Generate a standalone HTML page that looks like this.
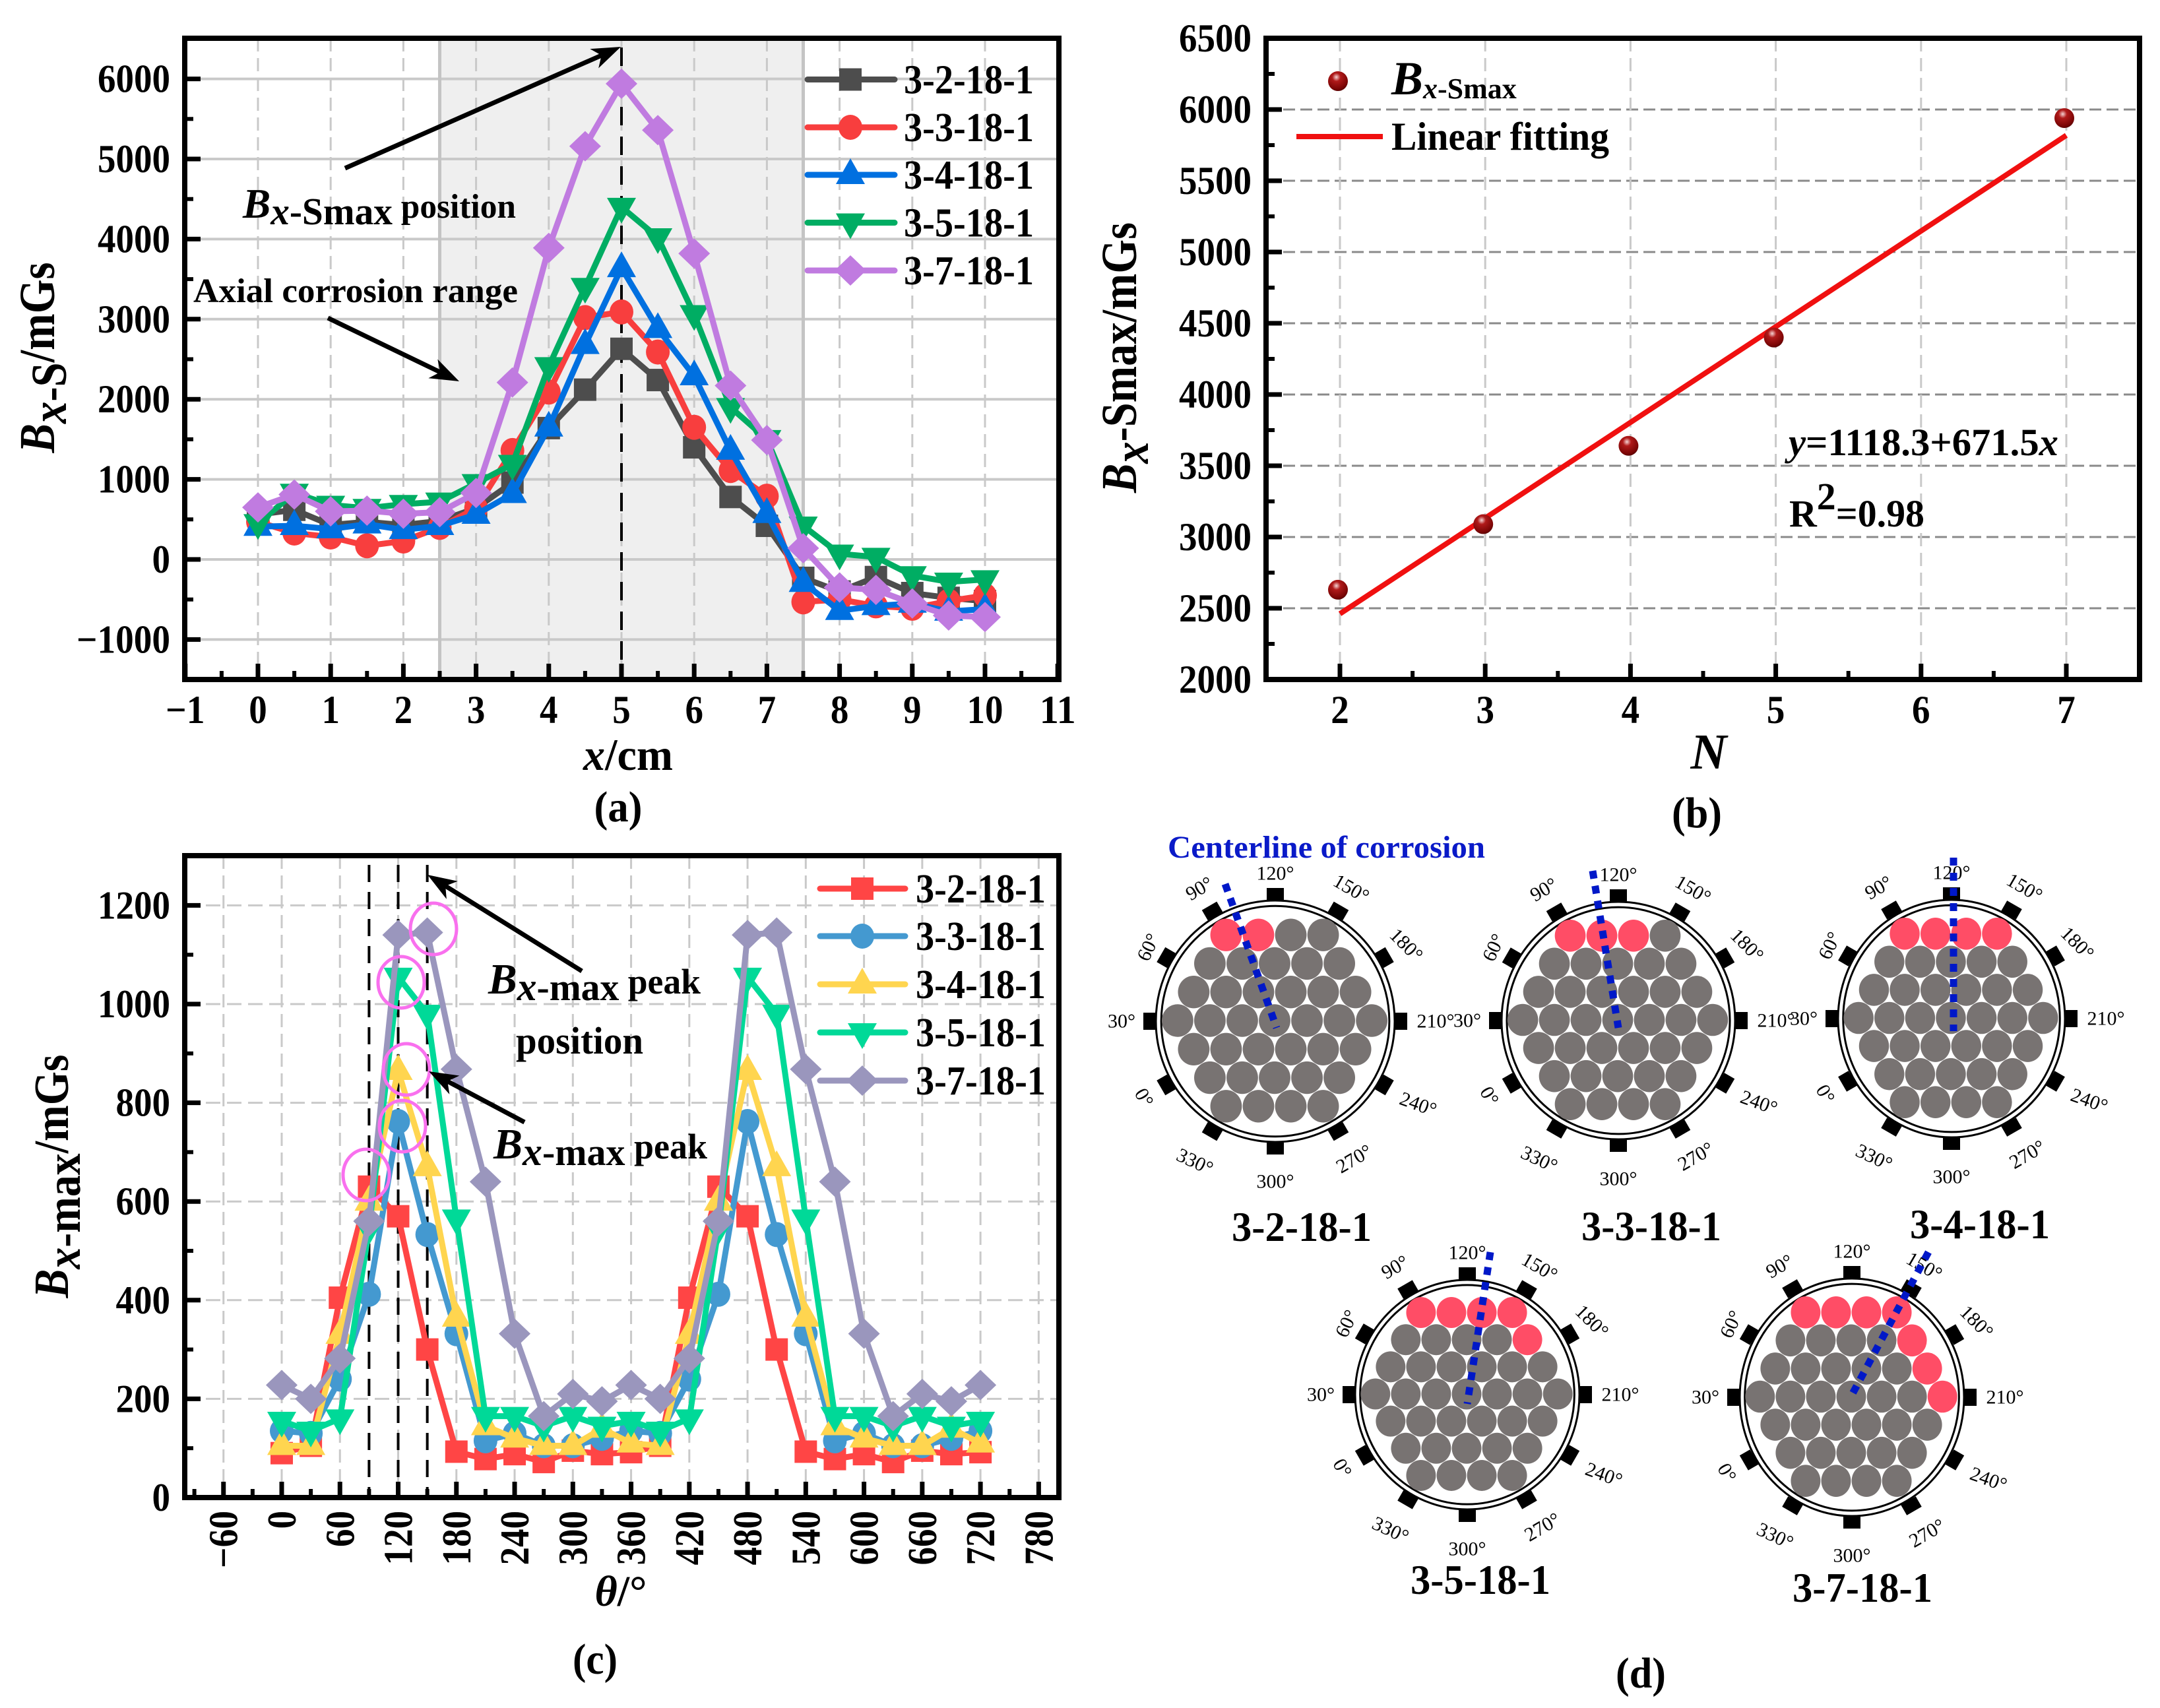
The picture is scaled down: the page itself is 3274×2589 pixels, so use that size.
<!DOCTYPE html>
<html lang="en">
<head>
<meta charset="utf-8">
<title>Bx signal composite figure</title>
<style>
html,body{margin:0;padding:0;background:#fff;}
svg{display:block;}
text{font-family:"Liberation Serif",serif;font-weight:bold;fill:#000;}
.i{font-style:italic;}
</style>
</head>
<body>
<svg id="fig" xmlns="http://www.w3.org/2000/svg" width="3274" height="2589" viewBox="0 0 3274 2589">
<defs>
<radialGradient id="ball" cx="0.42" cy="0.3" r="0.75">
<stop offset="0" stop-color="#f5d5d5"/><stop offset="0.28" stop-color="#b01a1a"/><stop offset="0.8" stop-color="#7a0505"/><stop offset="1" stop-color="#4d0000"/>
</radialGradient>
</defs>
<rect width="3274" height="2589" fill="#fff"/>
<g id="pa"></g>
<g id="pb"></g>
<g id="pc"></g>
<g id="pd"></g>

<g>
<text transform="translate(82,542) rotate(-90)" text-anchor="middle" font-size="76" textLength="289" lengthAdjust="spacingAndGlyphs"><tspan class="i">B</tspan><tspan class="i" dy="18">x</tspan><tspan>-S</tspan><tspan dy="-18">/mGs</tspan></text>
<text x="952" y="1167" text-anchor="middle" font-size="68" textLength="136" lengthAdjust="spacingAndGlyphs"><tspan class="i">x</tspan>/cm</text>
<text x="937" y="1245" text-anchor="middle" font-size="66" textLength="73" lengthAdjust="spacingAndGlyphs">(a)</text>
<text x="368" y="330" font-size="56" textLength="414" lengthAdjust="spacingAndGlyphs"><tspan class="i" font-size="64">B</tspan><tspan class="i" font-size="58" dy="10">x</tspan><tspan font-size="58">-Smax</tspan><tspan dy="-10" font-size="52"> position</tspan></text>
<text x="293" y="458" font-size="52" textLength="492" lengthAdjust="spacingAndGlyphs">Axial corrosion range</text>
</g>

<g>
<text transform="translate(1722,542) rotate(-90)" text-anchor="middle" font-size="76" textLength="410" lengthAdjust="spacingAndGlyphs"><tspan class="i">B</tspan><tspan class="i" dy="18">x</tspan><tspan dy="-18">-Smax/mGs</tspan></text>
<text class="i" x="2590" y="1165" text-anchor="middle" font-size="76">N</text>
<text x="2572" y="1254" text-anchor="middle" font-size="66" textLength="76" lengthAdjust="spacingAndGlyphs">(b)</text>
<text x="2109" y="143"><tspan class="i" font-size="72">B</tspan><tspan class="i" font-size="44" dy="6">x</tspan><tspan font-size="44">-Smax</tspan></text>
<text x="2109" y="227" font-size="60" textLength="330" lengthAdjust="spacingAndGlyphs">Linear fitting</text>
<text x="2711" y="690" font-size="58" textLength="409" lengthAdjust="spacingAndGlyphs"><tspan class="i">y</tspan>=1118.3+671.5<tspan class="i">x</tspan></text>
<text x="2712" y="798" font-size="58" textLength="205" lengthAdjust="spacingAndGlyphs">R<tspan dy="-26">2</tspan><tspan dy="26">=0.98</tspan></text>
</g>

<g>
<text transform="translate(103,1783) rotate(-90)" text-anchor="middle" font-size="74" textLength="369" lengthAdjust="spacingAndGlyphs"><tspan class="i">B</tspan><tspan class="i" dy="18">x</tspan><tspan>-max</tspan><tspan dy="-18">/mGs</tspan></text>
<text x="941" y="2434" text-anchor="middle" font-size="66"><tspan class="i">θ</tspan>/°</text>
<text x="902" y="2537" text-anchor="middle" font-size="66" textLength="68" lengthAdjust="spacingAndGlyphs">(c)</text>
<text x="740" y="1506" font-size="56" textLength="322" lengthAdjust="spacingAndGlyphs"><tspan class="i" font-size="66">B</tspan><tspan class="i" font-size="60" dy="10">x</tspan><tspan font-size="58">-max</tspan><tspan dy="-10" font-size="54"> peak</tspan></text>
<text x="782" y="1597" font-size="58" textLength="193" lengthAdjust="spacingAndGlyphs">position</text>
<text x="748" y="1756" font-size="56" textLength="324" lengthAdjust="spacingAndGlyphs"><tspan class="i" font-size="66">B</tspan><tspan class="i" font-size="60" dy="10">x</tspan><tspan font-size="58">-max</tspan><tspan dy="-10" font-size="54"> peak</tspan></text>
</g>

<g>
<text x="1770" y="1300" font-size="48" style="fill:#0a1ac8" textLength="481" lengthAdjust="spacingAndGlyphs">Centerline of corrosion</text>
<text x="1973" y="1881" text-anchor="middle" font-size="64" textLength="212" lengthAdjust="spacingAndGlyphs">3-2-18-1</text>
<text x="2503" y="1880" text-anchor="middle" font-size="64" textLength="212" lengthAdjust="spacingAndGlyphs">3-3-18-1</text>
<text x="3001" y="1877" text-anchor="middle" font-size="64" textLength="212" lengthAdjust="spacingAndGlyphs">3-4-18-1</text>
<text x="2244" y="2416" text-anchor="middle" font-size="64" textLength="212" lengthAdjust="spacingAndGlyphs">3-5-18-1</text>
<text x="2823" y="2428" text-anchor="middle" font-size="64" textLength="212" lengthAdjust="spacingAndGlyphs">3-7-18-1</text>
<text x="2487" y="2558" text-anchor="middle" font-size="66" textLength="76" lengthAdjust="spacingAndGlyphs">(d)</text>
</g>
</svg>

<script>
/* ---------- chart data ---------- */
const seriesNames = ['3-2-18-1','3-3-18-1','3-4-18-1','3-5-18-1','3-7-18-1'];

/* panel a */
const axialPositions = [0,0.5,1,1.5,2,2.5,3,3.5,4,4.5,5,5.5,6,6.5,7,7.5,8,8.5,9,9.5,10];
const axial32 = [560,620,430,470,430,480,640,960,1640,2120,2630,2240,1400,780,420,-230,-400,-220,-420,-480,-520];
const axial33 = [470,330,280,170,230,400,640,1360,2090,3020,3090,2590,1650,1110,790,-530,-500,-580,-610,-520,-450];
const axial34 = [410,420,380,440,370,420,560,820,1650,2680,3640,2880,2290,1360,570,-290,-640,-580,-550,-650,-620];
const axial35 = [450,830,680,640,690,720,950,1190,2410,3400,4400,4020,3060,1900,1500,420,70,30,-200,-280,-250];
const axial37 = [650,810,600,610,570,590,830,2210,3890,5160,5940,5360,3820,2170,1490,140,-350,-380,-550,-700,-720];
const axialXTicks = [-1,0,1,2,3,4,5,6,7,8,9,10,11];
const axialYTicks = [-1000,0,1000,2000,3000,4000,5000,6000];

/* panel b */
const strandCounts = [2,3,4,5,7];
const peakValues = [2630,3090,3640,4400,5940];
const fitIntercept = 1118.3;
const fitSlope = 671.5;
const strandXTicks = [2,3,4,5,6,7];
const peakYTicks = [2000,2500,3000,3500,4000,4500,5000,5500,6000,6500];

/* panel c */
const thetaValues = [0,30,60,90,120,150,180,210,240,270,300,330,360,390,420,450,480,510,540,570,600,630,660,690,720];
const circ32 = [90,105,405,630,570,300,93,78,88,72,95,88,92,105,405,630,570,300,93,78,88,72,95,88,92];
const circ33 = [135,130,240,412,762,533,332,115,130,105,105,120,135,130,240,412,762,533,332,115,130,105,105,120,135];
const circ34 = [105,105,330,600,865,670,365,145,120,105,105,140,110,105,330,600,865,670,365,145,120,105,105,140,110];
const circ35 = [155,135,160,545,1055,980,565,165,165,145,165,145,155,135,160,545,1055,980,565,165,165,145,165,145,155];
const circ37 = [228,200,282,560,1140,1145,868,640,332,165,210,195,228,200,282,560,1140,1145,868,640,332,165,210,195,228];
const thetaXTicks = [-60,0,60,120,180,240,300,360,420,480,540,600,660,720,780];
const circYTicks = [0,200,400,600,800,1000,1200];
const peakThetaLines = [90,120,150];

/* ---------- helpers ---------- */
const NS = 'http://www.w3.org/2000/svg';
function mk(parent, tag, attrs, name) {
  const el = document.createElementNS(NS, tag);
  for (const k in attrs) el.setAttribute(k, attrs[k]);
  
  
  parent.appendChild(el);
  return el;
}
function label(parent, str, attrs, name) {
  const el = mk(parent, 'text', attrs, name);
  el.textContent = str;
  return el;
}
function fmt(v) { return v < 0 ? '\u2212' + Math.abs(v) : String(v); }
function labelLen(v) {
  const digits = String(Math.abs(v)).length;
  return digits*27.5 + (v < 0 ? 32 : 0);
}
function marker(parent, type, cx, cy, color, k, name) {
  const s = k || 1;
  if (type === 'square') {
    return mk(parent, 'rect', {x: cx - 17*s, y: cy - 17*s, width: 34*s, height: 34*s, fill: color}, name);
  }
  if (type === 'circle') {
    return mk(parent, 'ellipse', {cx: cx, cy: cy, rx: 18*s, ry: 19*s, fill: color}, name);
  }
  if (type === 'up') {
    return mk(parent, 'polygon', {points: [cx, cy - 25*s, cx + 22*s, cy + 14*s, cx - 22*s, cy + 14*s].join(' '), fill: color}, name);
  }
  if (type === 'down') {
    return mk(parent, 'polygon', {points: [cx, cy + 25*s, cx + 22*s, cy - 14*s, cx - 22*s, cy - 14*s].join(' '), fill: color}, name);
  }
  return mk(parent, 'polygon', {points: [cx, cy - 23*s, cx + 24*s, cy, cx, cy + 23*s, cx - 24*s, cy].join(' '), fill: color}, name);
}
function arrow(parent, x1, y1, x2, y2, name) {
  const a = Math.atan2(y2 - y1, x2 - x1);
  const len = 44, wid = 16, back = 32;
  const bx = x2 - back*Math.cos(a), by = y2 - back*Math.sin(a);
  const hx = x2 - len*Math.cos(a), hy = y2 - len*Math.sin(a);
  mk(parent, 'line', {x1: x1, y1: y1, x2: bx, y2: by, stroke: '#000', 'stroke-width': 7}, name + '-shaft');
  const nx = -Math.sin(a)*wid, ny = Math.cos(a)*wid;
  mk(parent, 'polygon', {points: [x2, y2, hx + nx, hy + ny, bx, by, hx - nx, hy - ny].join(' '), fill: '#000'}, name + '-head');
}
function drawSeries(parent, xs, ys, xf, yf, color, type, name) {
  const g = mk(parent, 'g', {}, name);
  const pts = xs.map((x, i) => xf(x) + ',' + yf(ys[i])).join(' ');
  mk(g, 'polyline', {points: pts, fill: 'none', stroke: color, 'stroke-width': 9, 'stroke-linejoin': 'round'}, name + '-line');
  xs.forEach((x, i) => {
    marker(g, type, xf(x), yf(ys[i]), color, 1, name + '-point');
  });
}
function legendRow(parent, x1, x2, mx, tx, y, color, type, text, name) {
  const g = mk(parent, 'g', {}, name);
  mk(g, 'line', {x1: x1, x2: x2, y1: y, y2: y, stroke: color, 'stroke-width': 9, 'stroke-linecap': 'round'}, name + '-line');
  marker(g, type, mx, y, color, 1, name + '-marker');
  label(g, text, {x: tx, y: y + 21, 'font-size': 62, textLength: 197, lengthAdjust: 'spacingAndGlyphs'}, name + '-text');
}
function frame(parent, l, t, r, b) {
  mk(parent, 'rect', {x: l, y: t, width: r - l, height: b - t, fill: 'none', stroke: '#000', 'stroke-width': 8}, 'plot-frame');
}
function tickY(parent, l, y, major) {
  mk(parent, 'line', {x1: l, x2: l + (major ? 24 : 13), y1: y, y2: y, stroke: '#000', 'stroke-width': major ? 7 : 6}, major ? 'y-major-tick' : 'y-minor-tick');
}
function tickX(parent, b, x, major) {
  mk(parent, 'line', {x1: x, x2: x, y1: b, y2: b - (major ? 24 : 13), stroke: '#000', 'stroke-width': major ? 7 : 6}, major ? 'x-major-tick' : 'x-minor-tick');
}

/* ---------- panel a ---------- */
(function () {
  const p = document.getElementById('pa');
  const L = 280, R = 1605, T = 58, B = 1030;
  const x = v => 391 + 110.2*v;
  const y = v => 848 - 0.1214*v;
  mk(p, 'rect', {x: x(2.5), y: T, width: x(7.5) - x(2.5), height: B - T, fill: '#efefef'}, 'axial-corrosion-range');
  axialYTicks.forEach(v => {
    mk(p, 'line', {x1: L, x2: R, y1: y(v), y2: y(v), stroke: '#c9c9c9', 'stroke-width': 4}, 'y-gridline');
  });
  axialXTicks.slice(1, -1).forEach(v => {
    mk(p, 'line', {x1: x(v), x2: x(v), y1: T, y2: B, stroke: '#c9c9c9', 'stroke-width': 3, 'stroke-dasharray': '20 10'}, 'x-gridline');
  });
  [2.5, 7.5].forEach(v => {
    mk(p, 'line', {x1: x(v), x2: x(v), y1: T, y2: B, stroke: '#c4c4c4', 'stroke-width': 5}, 'corrosion-range-edge');
  });
  mk(p, 'line', {x1: x(5), x2: x(5), y1: 72, y2: B, stroke: '#000', 'stroke-width': 4, 'stroke-dasharray': '28 17'}, 'peak-position-line');

  const ys = [axial32, axial33, axial34, axial35, axial37];
  const colors = ['#4d4d4d', '#f83e3e', '#0070e0', '#00ad63', '#c07be0'];
  const types = ['square', 'circle', 'up', 'down', 'diamond'];
  ys.forEach((arr, i) => {
    drawSeries(p, axialPositions, arr, x, y, colors[i], types[i], 'series-a-' + seriesNames[i]);
  });
  const rows = [120.5, 193, 265, 337.5, 410];
  rows.forEach((ry, i) => {
    legendRow(p, 1224, 1356, 1289, 1370, ry, colors[i], types[i], seriesNames[i], 'legend-a-' + seriesNames[i]);
  });
  arrow(p, 523, 255, 941, 71, 'bxsmax-arrow');
  arrow(p, 497, 482, 696, 578, 'corrosion-arrow');

  axialYTicks.forEach(v => {
    tickY(p, L, y(v), true);
    label(p, fmt(v), {x: 258, y: y(v) + 20, 'text-anchor': 'end', 'font-size': 60, textLength: labelLen(v), lengthAdjust: 'spacingAndGlyphs'}, 'y-tick-label-a');
    tickY(p, L, y(v + 500), false);
  });
  axialXTicks.forEach(v => {
    tickX(p, B, x(v), true);
    label(p, fmt(v), {x: x(v), y: 1096, 'text-anchor': 'middle', 'font-size': 60, textLength: labelLen(v), lengthAdjust: 'spacingAndGlyphs'}, 'x-tick-label-a');
    if (v < 11) tickX(p, B, x(v + 0.5), false);
  });
  frame(p, L, T, R, B);
})();

/* ---------- panel b ---------- */
(function () {
  const p = document.getElementById('pb');
  const L = 1919, R = 3243, T = 58, B = 1030;
  const x = v => 2031 + 220.2*(v - 2);
  const y = v => 1030 - 0.216*(v - 2000);
  peakYTicks.slice(1, -1).forEach(v => {
    mk(p, 'line', {x1: L, x2: R, y1: y(v), y2: y(v), stroke: '#8a8a8a', 'stroke-width': 3, 'stroke-dasharray': '18 8'}, 'y-gridline');
  });
  strandXTicks.forEach(v => {
    mk(p, 'line', {x1: x(v), x2: x(v), y1: T, y2: B, stroke: '#c9c9c9', 'stroke-width': 3, 'stroke-dasharray': '20 10'}, 'x-gridline');
  });
  const x0 = strandCounts[0], x1 = strandCounts[strandCounts.length - 1];
  mk(p, 'line', {x1: x(x0), x2: x(x1), y1: y(fitIntercept + fitSlope*x0), y2: y(fitIntercept + fitSlope*x1), stroke: '#f01010', 'stroke-width': 8}, 'linear-fit-line');
  strandCounts.forEach((n, i) => {
    mk(p, 'circle', {cx: x(n) - 3, cy: y(peakValues[i]), r: 15, fill: 'url(#ball)'}, 'bxsmax-point');
  });
  mk(p, 'circle', {cx: 2028, cy: 123, r: 15, fill: 'url(#ball)'}, 'legend-bxsmax-marker');
  mk(p, 'line', {x1: 1965, x2: 2096, y1: 207, y2: 207, stroke: '#f01010', 'stroke-width': 8}, 'legend-fit-line');
  peakYTicks.forEach(v => {
    tickY(p, L, y(v), true);
    label(p, String(v), {x: 1897, y: y(v) + 20, 'text-anchor': 'end', 'font-size': 60, textLength: labelLen(v), lengthAdjust: 'spacingAndGlyphs'}, 'y-tick-label-b');
    if (v < 6500) tickY(p, L, y(v + 250), false);
  });
  strandXTicks.forEach(v => {
    tickX(p, B, x(v), true);
    label(p, String(v), {x: x(v), y: 1096, 'text-anchor': 'middle', 'font-size': 60, textLength: labelLen(v), lengthAdjust: 'spacingAndGlyphs'}, 'x-tick-label-b');
    if (v < 7) tickX(p, B, x(v + 0.5), false);
  });
  frame(p, L, T, R, B);
})();

/* ---------- panel c ---------- */
(function () {
  const p = document.getElementById('pc');
  const L = 280, R = 1605, T = 1297, B = 2270;
  const x = v => 427 + 1.471*v;
  const y = v => 2270 - 0.748*v;
  circYTicks.slice(1).forEach(v => {
    mk(p, 'line', {x1: L, x2: R, y1: y(v), y2: y(v), stroke: '#c9c9c9', 'stroke-width': 3, 'stroke-dasharray': '22 10'}, 'y-gridline');
  });
  thetaXTicks.forEach(v => {
    mk(p, 'line', {x1: x(v), x2: x(v), y1: T, y2: B, stroke: '#c9c9c9', 'stroke-width': 3, 'stroke-dasharray': '20 10'}, 'x-gridline');
  });
  peakThetaLines.forEach(v => {
    mk(p, 'line', {x1: x(v), x2: x(v), y1: 1311, y2: B, stroke: '#000', 'stroke-width': 4, 'stroke-dasharray': '26 15'}, 'peak-theta-line');
  });
  const ys = [circ32, circ33, circ34, circ35, circ37];
  const colors = ['#ff4545', '#4499d0', '#ffd54f', '#00d998', '#9a96bd'];
  const types = ['square', 'circle', 'up', 'down', 'diamond'];
  ys.forEach((arr, i) => {
    drawSeries(p, thetaValues, arr, x, y, colors[i], types[i], 'series-c-' + seriesNames[i]);
  });
  const rows = [1347, 1419, 1492, 1565, 1638];
  rows.forEach((ry, i) => {
    legendRow(p, 1243, 1372, 1307, 1388, ry, colors[i], types[i], seriesNames[i], 'legend-c-' + seriesNames[i]);
  });
  const peakCx = [657, 608, 616, 610, 555];
  const peakCy = [1408, 1489, 1621, 1707, 1781];
  peakCx.forEach((cx, i) => {
    mk(p, 'ellipse', {cx: cx, cy: peakCy[i], rx: 35, ry: 39, fill: 'none', stroke: '#f970ee', 'stroke-width': 5}, 'peak-highlight-ellipse');
  });
  arrow(p, 882, 1472, 648, 1326, 'peak-position-arrow');
  arrow(p, 795, 1701, 650, 1624, 'peak-arrow');
  circYTicks.forEach(v => {
    tickY(p, L, y(v), true);
    label(p, String(v), {x: 258, y: y(v) + 20, 'text-anchor': 'end', 'font-size': 60, textLength: labelLen(v), lengthAdjust: 'spacingAndGlyphs'}, 'y-tick-label-c');
    tickY(p, L, y(v + 100), false);
  });
  thetaXTicks.forEach(v => {
    tickX(p, B, x(v), true);
    label(p, fmt(v), {transform: 'translate(' + (x(v) + 21) + ',2290) rotate(-90)', 'text-anchor': 'end', 'font-size': 62, textLength: labelLen(v), lengthAdjust: 'spacingAndGlyphs'}, 'x-tick-label-c');
    if (v + 30 < 800) tickX(p, B, x(v + 30), false);
  });
  tickX(p, B, x(-90), false);
  frame(p, L, T, R, B);
})();

/* ---------- panel d ---------- */
(function () {
  const p = document.getElementById('pd');
  const ringLabels = [120,150,180,210,240,270,300,330,0,30,60,90];
  const labelRot = [0,30,45,0,20,-30,0,25,60,0,-65,-30];
  const labelGap = [41,49,48,62,69,58,60,63,49,52,41,49];
  const rowCounts = [4,5,6,7,6,5,4];
  const cables = [
    {id:'3-2', cx:1933, cy:1548, rx:181, ry:183, red:[[0,0],[0,1]], line:[1857,1340,1935,1558]},
    {id:'3-3', cx:2453, cy:1547, rx:177, ry:180, red:[[0,0],[0,1],[0,2]], line:[2414,1320,2453,1558]},
    {id:'3-4', cx:2958, cy:1544, rx:172, ry:180, red:[[0,0],[0,1],[0,2],[0,3]], line:[2961,1300,2961,1563]},
    {id:'3-5', cx:2224, cy:2114, rx:170, ry:174, red:[[0,0],[0,1],[0,2],[0,3],[1,4]], line:[2259,1898,2224,2128]},
    {id:'3-7', cx:2807, cy:2118, rx:170, ry:180, red:[[0,0],[0,1],[0,2],[0,3],[1,4],[2,5],[3,6]], line:[2923,1898,2805,2118]}
  ];
  cables.forEach(c => {
    const g = mk(p, 'g', {}, 'cable-section-' + c.id);
    ringLabels.forEach((deg, i) => {
      const a = i*Math.PI/6;
      const nx = c.cx + (c.rx + 10)*Math.sin(a);
      const ny = c.cy - (c.ry + 10)*Math.cos(a);
      mk(g, 'rect', {x: -13, y: -9, width: 26, height: 18, fill: '#000', transform: 'translate(' + nx + ',' + ny + ') rotate(' + (i*30) + ')'}, 'sensor-block');
      const gap = labelGap[i];
      const lx = c.cx + (c.rx + gap)*Math.sin(a);
      const ly = c.cy - (c.ry + gap)*Math.cos(a);
      const t = label(g, deg + '°', {transform: 'translate(' + lx + ',' + ly + ') rotate(' + labelRot[i] + ')', 'text-anchor': 'middle', 'dominant-baseline': 'central', 'font-size': 30}, 'angle-label');
      t.style.fontWeight = 'normal';
    });
    mk(g, 'ellipse', {cx: c.cx, cy: c.cy, rx: c.rx, ry: c.ry, fill: '#fff', stroke: '#000', 'stroke-width': 3}, 'outer-ring');
    mk(g, 'ellipse', {cx: c.cx, cy: c.cy, rx: c.rx*0.955, ry: c.ry*0.955, fill: 'none', stroke: '#000', 'stroke-width': 3}, 'inner-ring');
    const dx = c.rx*0.271, dy = c.ry*0.2365;
    const wr = c.rx*0.132, wy = c.ry*0.135;
    rowCounts.forEach((n, r) => {
      for (let k = 0; k < n; k++) {
        const isRed = c.red.some(q => q[0] === r && q[1] === k);
        mk(g, 'ellipse', {
          cx: c.cx - 1 + (k - (n - 1)/2)*dx,
          cy: c.cy - 1 + (r - 3)*dy,
          rx: wr, ry: wy,
          fill: isRed ? '#ff4d66' : '#787372'
        }, isRed ? 'corroded-wire' : 'wire');
      }
    });
    mk(g, 'line', {x1: c.line[0], y1: c.line[1], x2: c.line[2], y2: c.line[3], stroke: '#0018c8', 'stroke-width': 11, 'stroke-dasharray': '12 11'}, 'corrosion-centerline');
  });
})();
</script>
</body>
</html>
